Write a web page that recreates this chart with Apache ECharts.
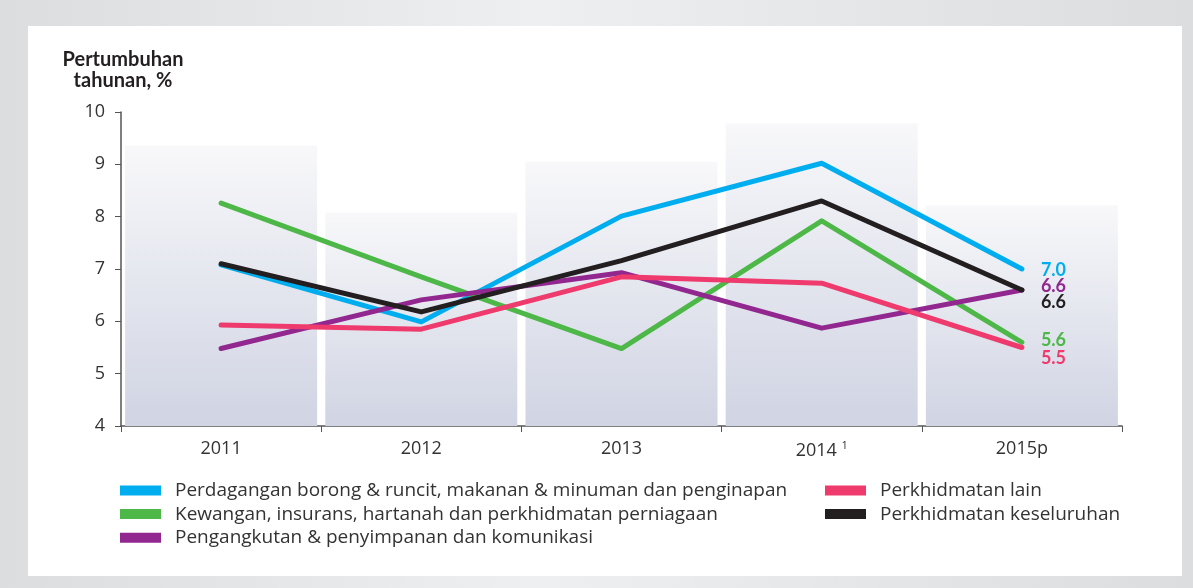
<!DOCTYPE html>
<html>
<head>
<meta charset="utf-8">
<script src="https://cdn.jsdelivr.net/npm/echarts@6/dist/echarts.min.js"></script>
<style>
  html, body { margin: 0; padding: 0; }
  body {
    width: 1193px; height: 588px; position: relative; overflow: hidden;
    background: linear-gradient(90deg, #dcdddf 0%, #eeeff1 45%, #dcdddf 100%);
  }
  #panel { position: absolute; left: 28px; top: 26px; width: 1154px; height: 550px; background: #fff; }
  #main { position: absolute; left: 0; top: 0; width: 1193px; height: 588px; }
</style>
</head>
<body>
<div id="panel"></div>
<div id="main"></div>
<script>
  // kategori tahun
  var years = ['2011', '2012', '2013', '2014', '2015p'];
  var yTicks = [4, 5, 6, 7, 8, 9, 10];

  // siri (pertumbuhan tahunan, %)
  var perdagangan = [7.08, 5.99, 8.01, 9.02, 7.0];
  var kewangan = [8.26, 6.85, 5.48, 7.92, 5.6];
  var pengangkutan = [5.48, 6.41, 6.93, 5.87, 6.6];
  var lain = [5.93, 5.85, 6.85, 6.73, 5.5];
  var keseluruhan = [7.1, 6.18, 7.16, 8.3, 6.6];
  // bar latar (hiasan)
  var latar = [9.36, 8.08, 9.05, 9.78, 8.22];

  var names = [
    'Perdagangan borong & runcit, makanan & minuman dan penginapan',
    'Kewangan, insurans, hartanah dan perkhidmatan perniagaan',
    'Pengangkutan & penyimpanan dan komunikasi',
    'Perkhidmatan lain',
    'Perkhidmatan keseluruhan'
  ];
  var colors = ['#00aeef', '#4db848', '#92278f', '#ee3a6d', '#231f20'];
  var values = [perdagangan, kewangan, pengangkutan, lain, keseluruhan];
  var labelOffsets = [[0, 1.5], [0, -2], [0, -4], [0, 10.5], [0, 12]];

  var FONT = '"Open Sans", sans-serif';

  function lineSeries(i) {
    return {
      name: names[i], type: 'line', data: values[i], z: 3,
      symbol: 'none', smooth: false,
      itemStyle: { color: colors[i] },
      lineStyle: { color: colors[i], width: 5, cap: 'round', join: 'round' },
      endLabel: {
        show: true, distance: 19, offset: labelOffsets[i],
        formatter: function (p) { return Number(p.value).toFixed(1); },
        color: colors[i], fontFamily: '"Lato", sans-serif', fontWeight: 'bold', fontSize: 18
      }
    };
  }

  var legendText = { fontFamily: FONT, fontSize: 19, color: '#333', lineHeight: 21, padding: [0, 0, 0, 9] };

  var mycharts = echarts.init(document.getElementById('main'));
  var option = {
    animation: false,
    color: colors,
    graphic: [{
      type: 'text', x: 123, y: 49,
      style: {
        text: 'Pertumbuhan\ntahunan, %', align: 'center',
        font: 'bold 20px "Lato", sans-serif', fill: '#231f20', lineHeight: 21
      }
    }],
    legend: [{
      data: names.slice(0, 3), orient: 'vertical', left: 120, top: 480, padding: 0,
      icon: 'rect', itemWidth: 41, itemHeight: 10, itemGap: 2.6,
      textStyle: legendText
    }, {
      data: names.slice(3), orient: 'vertical', left: 825, top: 480, padding: 0,
      icon: 'rect', itemWidth: 41, itemHeight: 10, itemGap: 2.6,
      textStyle: legendText
    }],
    grid: { left: 121, right: 71, top: 112, bottom: 162 },
    xAxis: {
      type: 'category', data: years,
      axisLine: { lineStyle: { color: '#555', width: 1.5 } },
      axisTick: { show: true, length: 6, lineStyle: { color: '#555' } },
      axisLabel: {
        margin: 14, fontFamily: FONT, fontSize: 18, color: '#333',
        formatter: function (v) { return v === '2014' ? v + ' {sup|1}' : v; },
        rich: { sup: { fontSize: 11, verticalAlign: 'top', padding: [0, 0, 10, 0], color: '#333', fontFamily: FONT } }
      }
    },
    yAxis: {
      type: 'value', min: yTicks[0], max: yTicks[yTicks.length - 1], interval: 1,
      axisLine: { show: true, lineStyle: { color: '#555', width: 1.5 } },
      axisTick: { show: true, length: 6, lineStyle: { color: '#555' } },
      splitLine: { show: false },
      axisLabel: { margin: 16, fontFamily: FONT, fontSize: 18, color: '#333' }
    },
    series: [{
      name: 'latar', type: 'bar', data: latar, barWidth: 192, z: 1,
      silent: true,
      itemStyle: {
        color: new echarts.graphic.LinearGradient(0, 0, 0, 1, [
          { offset: 0, color: '#f8f8fa' },
          { offset: 1, color: '#d0d4e3' }
        ])
      }
    }].concat([0, 1, 2, 3, 4].map(lineSeries))
  };
  mycharts.clear();
  mycharts.setOption(option);
</script>
</body>
</html>
